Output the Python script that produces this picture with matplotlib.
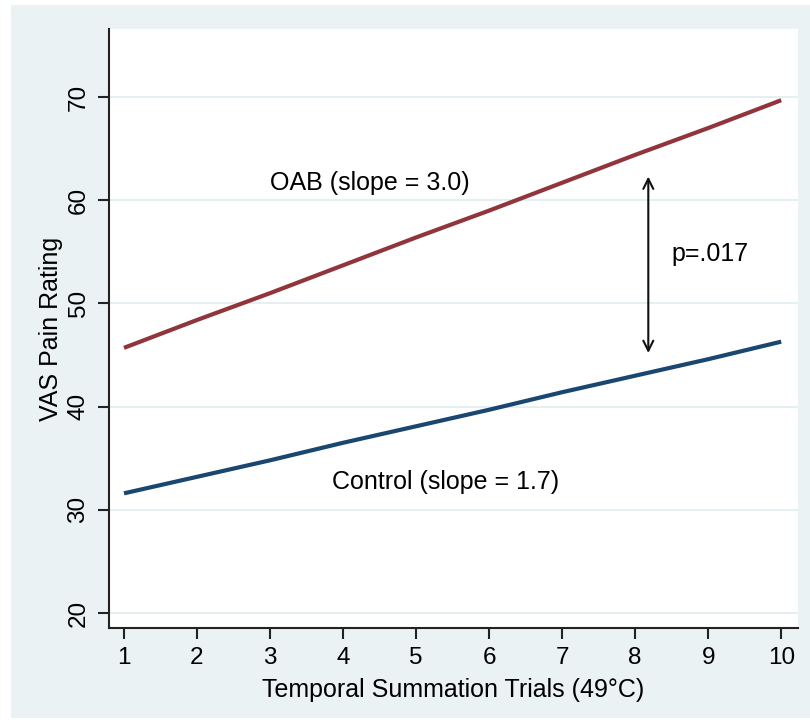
import numpy as np
import matplotlib.pyplot as plt
from matplotlib.patches import Rectangle

plt.rcParams['font.family'] = ['Liberation Sans', 'DejaVu Sans']

trials = [1, 2, 3, 4, 5, 6, 7, 8, 9, 10]
oab = [45.7, 48.4, 51.0, 53.7, 56.4, 59.0, 61.7, 64.4, 67.0, 69.7]
control = [31.6, 33.2, 34.8, 36.5, 38.1, 39.7, 41.4, 43.0, 44.6, 46.3]
yticks = [20, 30, 40, 50, 60, 70]

W, H = 810, 722
fig = plt.figure(figsize=(W / 100, H / 100), dpi=100)
fig.patch.set_facecolor('white')
# stata-ish graph region
bg = Rectangle((11 / W, 4 / H), 799 / W, 713 / H,
               transform=fig.transFigure, facecolor='#eaf2f3',
               edgecolor='none', zorder=-10)
fig.add_artist(bg)

ax = fig.add_axes([109 / W, 1 - 628 / H, (798 - 109) / W, (628 - 29) / H])
ax.set_zorder(5)
ax.set_facecolor('white')

ax.plot(trials, oab, color='#90353b', lw=3, solid_capstyle='butt', zorder=3)
ax.plot(trials, control, color='#1a476f', lw=3, solid_capstyle='butt', zorder=3)

ax.set_xlim(0.795, 10.23)
ax.set_ylim(18.55, 76.6)
ax.set_xticks(trials)
ax.set_yticks(yticks)
ax.grid(axis='y', color='#e0ebee', lw=1.2, zorder=1)
ax.set_axisbelow(True)

for s in ['top', 'right']:
    ax.spines[s].set_visible(False)
for s in ['left', 'bottom']:
    ax.spines[s].set_linewidth(1.5)
    ax.spines[s].set_color('#222222')

ax.tick_params(axis='both', direction='out', length=8, width=1.5,
               labelsize=17.5, color='#222222', pad=6)
for lab in ax.get_yticklabels():
    lab.set_rotation(90)
    lab.set_va('center')

ax.set_xlabel('Temporal Summation Trials (49°C)', fontsize=18, labelpad=6)
ax.set_ylabel('VAS Pain Rating', fontsize=18, labelpad=3)

ax.text(4.37, 61.7, 'OAB (slope = 3.0)', fontsize=18, ha='center', va='center')
ax.text(5.4, 32.7, 'Control (slope = 1.7)', fontsize=18, ha='center', va='center')
ax.text(8.5, 54.8, 'p=.017', fontsize=18, ha='left', va='center')
ax.annotate('', xy=(8.18, 62.3), xytext=(8.18, 45.2),
            arrowprops=dict(arrowstyle='<->', color='#111111', lw=1.5,
                            mutation_scale=18, shrinkA=0, shrinkB=0))

fig.savefig('out.png', dpi=100)
